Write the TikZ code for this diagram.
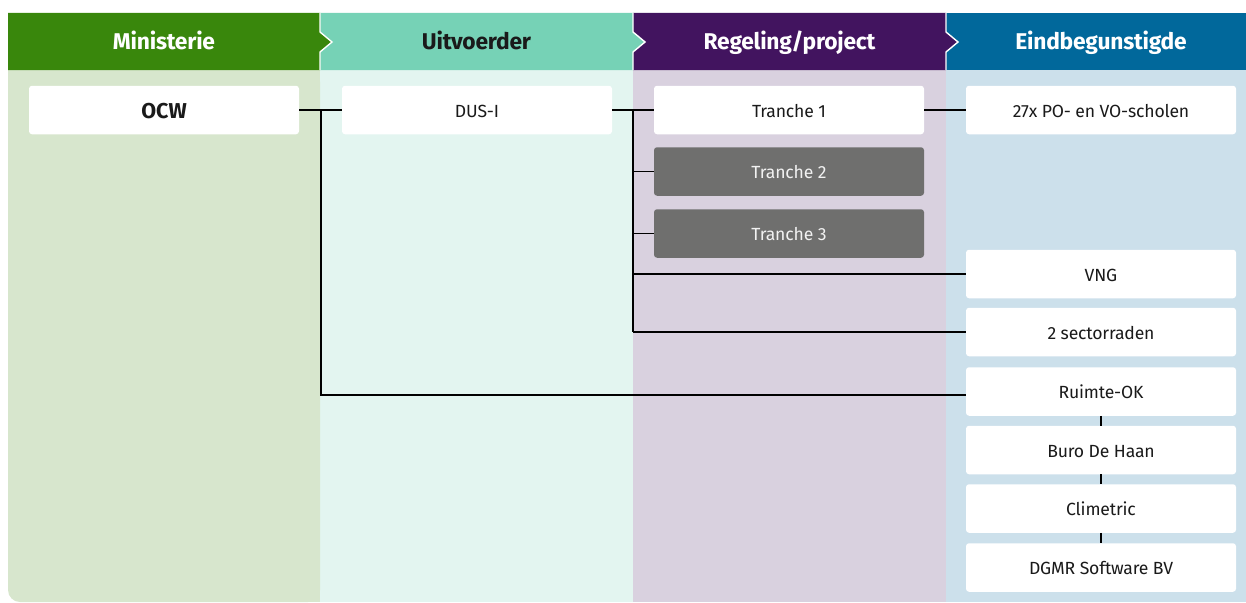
\documentclass[tikz,border=0pt]{standalone}
\usepackage{fontspec}
\setmainfont{Fira Sans}
\definecolor{hgreen}{HTML}{39870C}
\definecolor{hmint}{HTML}{76D2B6}
\definecolor{hviolet}{HTML}{42145F}
\definecolor{hblue}{HTML}{01689B}
\definecolor{bgreen}{HTML}{D7E6CD}
\definecolor{bmint}{HTML}{E3F5F0}
\definecolor{bviolet}{HTML}{D9D1DF}
\definecolor{bblue}{HTML}{CCE0EB}
\definecolor{greybox}{HTML}{6F6F6E}
\definecolor{greytxt}{HTML}{F2F2F2}
\definecolor{txt}{HTML}{1A1A1A}
\tikzset{
  orgbox/.style={draw=none, fill=white, rounded corners=3pt, minimum width=270pt, minimum height=48.5pt, inner sep=0pt, text height=18pt, text depth=3.5pt, font=\fontsize{17.6}{20}\selectfont\addfontfeatures{LetterSpace=-1}, text=txt},
  greyorg/.style={orgbox, fill=greybox, text=greytxt},
  hdrtext/.style={inner sep=0pt, text height=20pt, text depth=4pt, font=\fontsize{22.8}{26}\selectfont\bfseries\addfontfeatures{LetterSpace=-1}},
  conn/.style={draw=black, line width=1.1pt},
  sepline/.style={draw=white, line width=1.4pt}
}
\begin{document}
\begin{tikzpicture}[x=1pt,y=-1pt]
\useasboundingbox (0,0) rectangle (1246,602);
% bodies
\fill[bblue] (946,70) rectangle (1246,602);
\fill[bviolet] (633,70) rectangle (946,602);
\fill[bmint] (320,70) rectangle (633,602);
\fill[bgreen, rounded corners=12pt] (8,70) rectangle (320,602);
\fill[bgreen] (8,70) rectangle (320,400);
\fill[bgreen] (200,70) rectangle (320,602);
% headers (right to left so each tip overlaps the next header)
\fill[hblue] (946,13) rectangle (1246,70);
\fill[hviolet] (633,13) -- (946,13) -- (946,32) -- (958,42) -- (946,52) -- (946,70) -- (633,70) -- cycle;
\draw[sepline] (946,13) -- (946,32) -- (958,42) -- (946,52) -- (946,70);
\fill[hmint] (320,13) -- (633,13) -- (633,32) -- (645,42) -- (633,52) -- (633,70) -- (320,70) -- cycle;
\draw[sepline] (633,13) -- (633,32) -- (645,42) -- (633,52) -- (633,70);
\fill[hgreen] (8,13) -- (320,13) -- (320,32) -- (332,42) -- (320,52) -- (320,70) -- (8,70) -- cycle;
\draw[sepline] (320,13) -- (320,32) -- (332,42) -- (320,52) -- (320,70);
\node[hdrtext, text=white] (h1) at (164,42) {Ministerie};
\node[hdrtext, text=txt] (h2) at (476.5,42) {Uitvoerder};
\node[hdrtext, text=white] (h3) at (789.5,42) {Regeling/project};
\node[hdrtext, text=white] (h4) at (1101,42) {Eindbegunstigde};
% boxes
\node[orgbox, text height=20pt, text depth=3.5pt, font=\fontsize{21.5}{24}\selectfont\bfseries] (ocw) at (164,110) {OCW};
\node[orgbox] (dus) at (477,110) {DUS-I};
\node[orgbox] (t1) at (789,110) {Tranche 1};
\node[greyorg] (t2) at (789,171.5) {Tranche 2};
\node[greyorg] (t3) at (789,233.5) {Tranche 3};
\node[orgbox] (po) at (1101,110) {27x PO- en VO-scholen};
\node[orgbox] (vng) at (1101,274) {VNG};
\node[orgbox] (sec) at (1101,332) {2 sectorraden};
\node[orgbox] (rok) at (1101,391.5) {Ruimte-OK};
\node[orgbox] (buro) at (1101,450) {Buro De Haan};
\node[orgbox] (clim) at (1101,508.5) {Climetric};
\node[orgbox] (dgmr) at (1101,567.5) {DGMR Software BV};
% connectors
\coordinate (j1) at (321,110);
\coordinate (j1b) at (321,395);
\coordinate (j2) at (633,110);
\coordinate (j2b) at (633,332);
\draw[conn] (ocw.east) -- (dus.west);
\draw[conn] (j1) -- (j1b) -- (rok.west |- j1b);
\draw[conn] (dus.east) -- (t1.west);
\draw[conn] (j2) -- (j2b);
\draw[conn] (j2 |- t2.west) -- (t2.west);
\draw[conn] (j2 |- t3.west) -- (t3.west);
\draw[conn] (j2 |- vng.west) -- (vng.west);
\draw[conn] (j2b) -- (sec.west);
\draw[conn] (t1.east) -- (po.west);
\draw[conn] (rok.south) -- (buro.north);
\draw[conn] (buro.south) -- (clim.north);
\draw[conn] (clim.south) -- (dgmr.north);
\end{tikzpicture}
\end{document}
